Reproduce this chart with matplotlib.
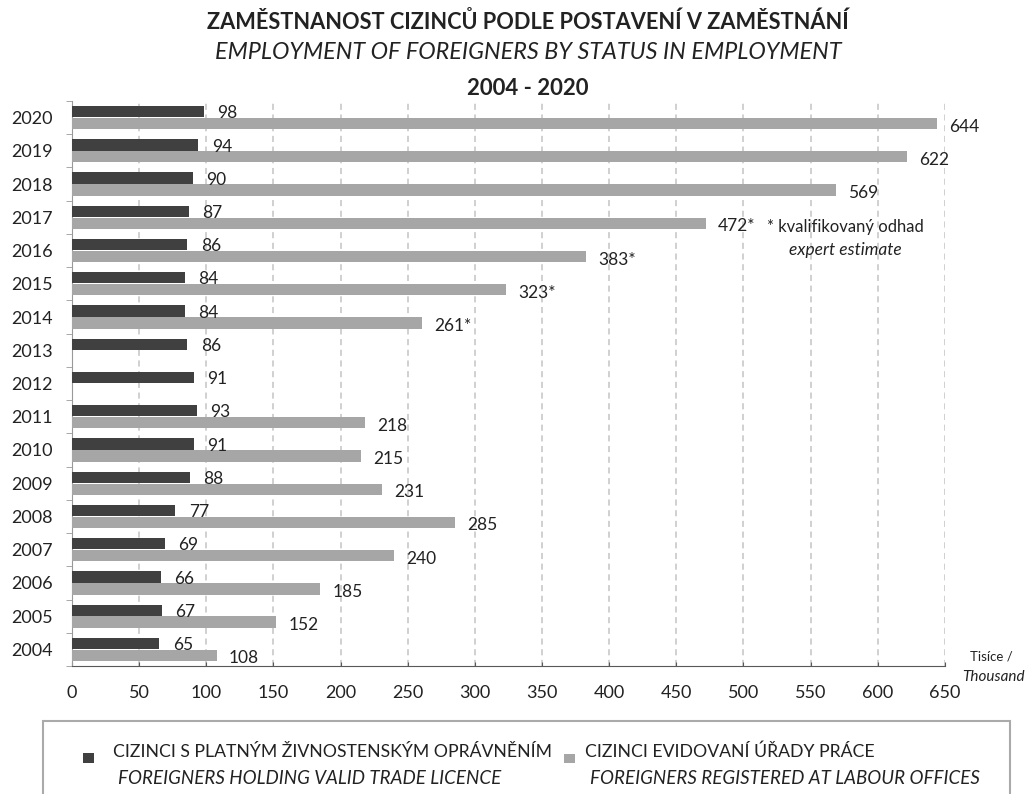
import matplotlib
matplotlib.use('Agg')
from matplotlib import pyplot as plt
from matplotlib.patches import Rectangle
import numpy as np

years = [2004, 2005, 2006, 2007, 2008, 2009, 2010, 2011, 2012,
         2013, 2014, 2015, 2016, 2017, 2018, 2019, 2020]
trade_licence = [65, 67, 66, 69, 77, 88, 91, 93, 91,
                 86, 84, 84, 86, 87, 90, 94, 98]
labour_offices = [108, 152, 185, 240, 285, 231, 215, 218, None,
                  None, 261, 323, 383, 472, 569, 622, 644]
estimated_years = [2014, 2015, 2016, 2017]
x_ticks = list(range(0, 651, 50))

plt.rcParams['font.family'] = ['Lato', 'DejaVu Sans']
dark = '#404040'
light = '#a6a6a6'
txt = '#222222'

fig = plt.figure(figsize=(10.27, 7.94), dpi=100)
ax = fig.add_axes([0.0701, 0.1612, 0.8499, 0.7116])

y = np.arange(len(years))
h = 0.34

# Bars
ax.barh(y + 0.18, trade_licence, height=h, color=dark, zorder=3)
lab_y = [yy - 0.18 for yy, v in zip(y, labour_offices) if v is not None]
lab_v = [v for v in labour_offices if v is not None]
ax.barh(lab_y, lab_v, height=h, color=light, zorder=3)

# Value labels
for yy, v in zip(y, trade_licence):
    ax.text(v + 10, yy + 0.13, str(v), va='center', ha='left',
            fontsize=12.5, color=txt)
for yy, yr, v in zip(y, years, labour_offices):
    if v is None:
        continue
    s = str(v) + ('*' if yr in estimated_years else '')
    ax.text(v + 9, yy - 0.27, s, va='center', ha='left',
            fontsize=12.5, color=txt)

# Axes formatting
ax.set_xlim(0, 650)
ax.set_ylim(-0.5, len(years) - 0.5)
ax.set_xticks(x_ticks)
ax.set_xticklabels([str(t) for t in x_ticks], fontsize=13, color=txt)
ax.set_yticks(y)
ax.set_yticklabels([str(yr) for yr in years], fontsize=13, color=txt)
ax.set_yticks(np.arange(-0.5, len(years), 1.0), minor=True)
ax.tick_params(axis='y', which='major', length=0, pad=14)
ax.tick_params(axis='y', which='minor', length=4, color='#999999')
ax.tick_params(axis='x', which='major', direction='in', length=3,
               color='#595959', pad=14)
ax.xaxis.grid(True, linestyle=(0, (4, 3)), color='#c4c4c4', linewidth=1.1, zorder=0)
for side in ['top', 'right']:
    ax.spines[side].set_visible(False)
ax.spines['left'].set_color('#999999')
ax.spines['bottom'].set_color('#595959')

# Note
ax.text(576, 12.72, '* kvalifikovaný odhad', ha='center', va='center',
        fontsize=12, color=txt)
ax.text(576, 12.03, 'expert estimate', ha='center', va='center',
        fontsize=12.5, style='italic', color=txt)

# Unit label
fig.text(0.965, 0.173, 'Tisíce /', ha='center', va='center', fontsize=9.5, color=txt)
fig.text(0.967, 0.147, 'Thousand', ha='center', va='center', fontsize=11,
         style='italic', color=txt)

# Titles
fig.text(0.514, 0.972, 'ZAMĚSTNANOST CIZINCŮ PODLE POSTAVENÍ V ZAMĚSTNÁNÍ',
         ha='center', va='center', fontsize=15.7, fontweight='bold', color=txt)
fig.text(0.514, 0.934, 'EMPLOYMENT OF FOREIGNERS BY STATUS IN EMPLOYMENT',
         ha='center', va='center', fontsize=16.8, style='italic', color=txt)
fig.text(0.514, 0.889, '2004 - 2020', ha='center', va='center',
         fontsize=16, fontweight='bold', color=txt)

# Legend box
fig.patches.append(Rectangle((0.042, -0.05), 0.9416, 0.142, transform=fig.transFigure,
                             facecolor='white', edgecolor='#aaaaaa', linewidth=1.5))
fig.patches.append(Rectangle((0.081, 0.039), 0.0107, 0.0126, transform=fig.transFigure,
                             facecolor=dark, edgecolor='none'))
fig.patches.append(Rectangle((0.549, 0.039), 0.0107, 0.0113, transform=fig.transFigure,
                             facecolor=light, edgecolor='none'))
fig.text(0.110, 0.053, 'CIZINCI S PLATNÝM ŽIVNOSTENSKÝM OPRÁVNĚNÍM', ha='left',
         va='center', fontsize=12.7, color=txt)
fig.text(0.115, 0.020, 'FOREIGNERS HOLDING VALID TRADE LICENCE', ha='left',
         va='center', fontsize=13.5, style='italic', color=txt)
fig.text(0.570, 0.053, 'CIZINCI EVIDOVANÍ ÚŘADY PRÁCE', ha='left',
         va='center', fontsize=12.7, color=txt)
fig.text(0.5745, 0.020, 'FOREIGNERS REGISTERED AT LABOUR OFFICES', ha='left',
         va='center', fontsize=13.5, style='italic', color=txt)

fig.savefig('out.png', dpi=100)
